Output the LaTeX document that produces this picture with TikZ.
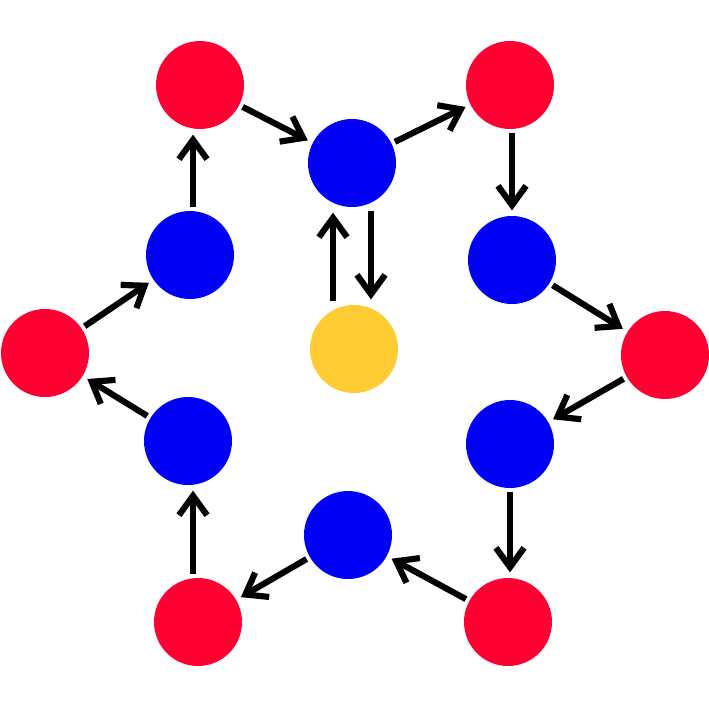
\documentclass[tikz,border=0pt]{standalone}
\usepackage{tikz}
\usetikzlibrary{arrows.meta}
\definecolor{DotRed}{HTML}{FF0033}
\definecolor{DotBlue}{HTML}{0000F5}
\definecolor{DotGold}{HTML}{FFCC33}
\begin{document}
\begin{tikzpicture}[x=0.02cm, y=-0.02cm, dot/.style={circle,minimum size=1.76cm,inner sep=0pt}, red/.style={dot,fill=DotRed}, blue/.style={dot,fill=DotBlue}, gold/.style={dot,fill=DotGold}, arr/.style={-{Straight Barb[length=11pt,width=16pt]},line width=3.5pt,shorten >=3pt,shorten <=2pt}]
\useasboundingbox (0,0) rectangle (709,704);
\node[red] (r1) at (200,85) {};
\node[blue] (b1) at (352,163) {};
\node[red] (r2) at (510,85) {};
\node[blue] (b2) at (512,260) {};
\node[red] (r3) at (665,355) {};
\node[blue] (b3) at (510,444) {};
\node[red] (r4) at (508,622) {};
\node[blue] (b4) at (348,535) {};
\node[red] (r5) at (198,622) {};
\node[blue] (b5) at (188,441) {};
\node[red] (r6) at (45,353) {};
\node[blue] (b6) at (190,255) {};
\node[gold] (y) at (354,349) {};
\draw[arr] (r1)--(b1);
\draw[arr] (b1)--(r2);
\draw[arr] ([xshift=2*0.02cm]r2.south)--([xshift=2*0.02cm]r2.south |- b2.north);
\draw[arr] (b2)--(r3);
\draw[arr] (r3)--(b3);
\draw[arr] (b3.south)--(b3.south |- r4.north);
\draw[arr] (r4)--(b4);
\draw[arr] (b4)--(r5);
\draw[arr] ([xshift=-5*0.02cm]r5.north)--([xshift=-5*0.02cm]r5.north |- b5.south);
\draw[arr] (b5)--(r6);
\draw[arr] (r6)--(b6);
\draw[arr] ([xshift=3*0.02cm]b6.north)--([xshift=3*0.02cm]b6.north |- r1.south);
\draw[arr] ([xshift=-21*0.02cm]y.north)--([xshift=-19*0.02cm]b1.south);
\draw[arr] ([xshift=19*0.02cm]b1.south)--([xshift=17*0.02cm]y.north);
\end{tikzpicture}
\end{document}
